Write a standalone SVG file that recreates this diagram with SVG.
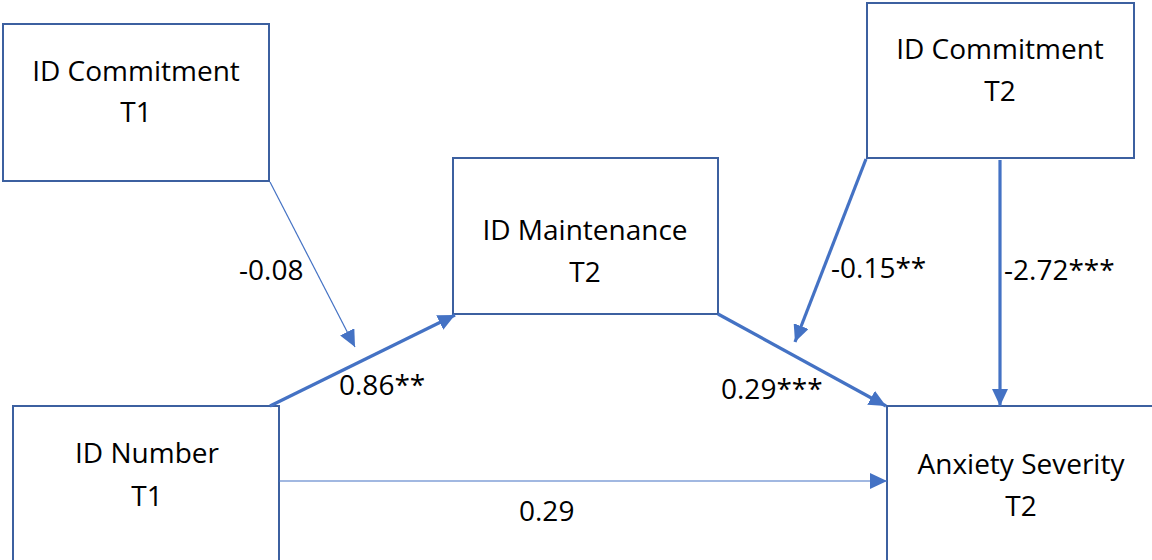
<svg xmlns="http://www.w3.org/2000/svg" width="1152" height="560" viewBox="0 0 1152 560">
  <style>
    .box { fill: #ffffff; stroke: #3C60A0; stroke-width: 2; }
    .label { font-family: "Open Sans", "Liberation Sans", sans-serif; font-size: 28px; fill: #000000; }
    .mid { text-anchor: middle; }
    .thin { fill: none; stroke: #4472C4; stroke-width: 1.2; marker-end: url(#head); }
    .thick { fill: none; stroke: #4472C4; stroke-width: 3.2; marker-end: url(#head); }
  </style>
  <defs>
    <marker id="head" markerUnits="userSpaceOnUse" markerWidth="18" markerHeight="16" refX="17" refY="8" orient="auto">
      <path d="M0,0 L17,8 L0,16 Z" fill="#4472C4"/>
    </marker>
  </defs>

  <rect width="1152" height="560" fill="#ffffff"/>

  <!-- path model boxes -->
  <g id="commitment-t1">
    <rect class="box" x="3" y="24" width="266" height="157"/>
    <text class="label mid" x="136" y="81">ID Commitment</text>
    <text class="label mid" x="136" y="122">T1</text>
  </g>
  <g id="commitment-t2">
    <rect class="box" x="867" y="3" width="267" height="155"/>
    <text class="label mid" x="1000" y="59">ID Commitment</text>
    <text class="label mid" x="1000" y="101">T2</text>
  </g>
  <g id="maintenance-t2">
    <rect class="box" x="453" y="158" width="265" height="156"/>
    <text class="label mid" x="585" y="240">ID Maintenance</text>
    <text class="label mid" x="585" y="282">T2</text>
  </g>
  <g id="number-t1">
    <rect class="box" x="13" y="406" width="266" height="170"/>
    <text class="label mid" x="147" y="463">ID Number</text>
    <text class="label mid" x="147" y="506">T1</text>
  </g>
  <g id="anxiety-t2">
    <rect class="box" x="887" y="406" width="280" height="170"/>
    <text class="label mid" x="1021" y="474">Anxiety Severity</text>
    <text class="label mid" x="1021" y="516">T2</text>
  </g>

  <!-- paths with coefficients -->
  <g id="connectors">
    <line class="thin" x1="270" y1="182" x2="355" y2="347"/>
    <line class="thick" x1="270" y1="406" x2="455" y2="315"/>
    <line class="thick" x1="718" y1="314" x2="886" y2="406"/>
    <line class="thick" x1="866" y1="159" x2="795" y2="342"/>
    <line class="thick" x1="1000" y1="160" x2="1000" y2="406"/>
    <line class="thin" x1="279" y1="481" x2="887" y2="481"/>

    <text class="label" x="239" y="280">-0.08</text>
    <text class="label" x="339" y="395">0.86**</text>
    <text class="label" x="831" y="278">-0.15**</text>
    <text class="label" x="1004" y="280">-2.72***</text>
    <text class="label" x="721" y="399">0.29***</text>
    <text class="label" x="519" y="521">0.29</text>
  </g>
</svg>
